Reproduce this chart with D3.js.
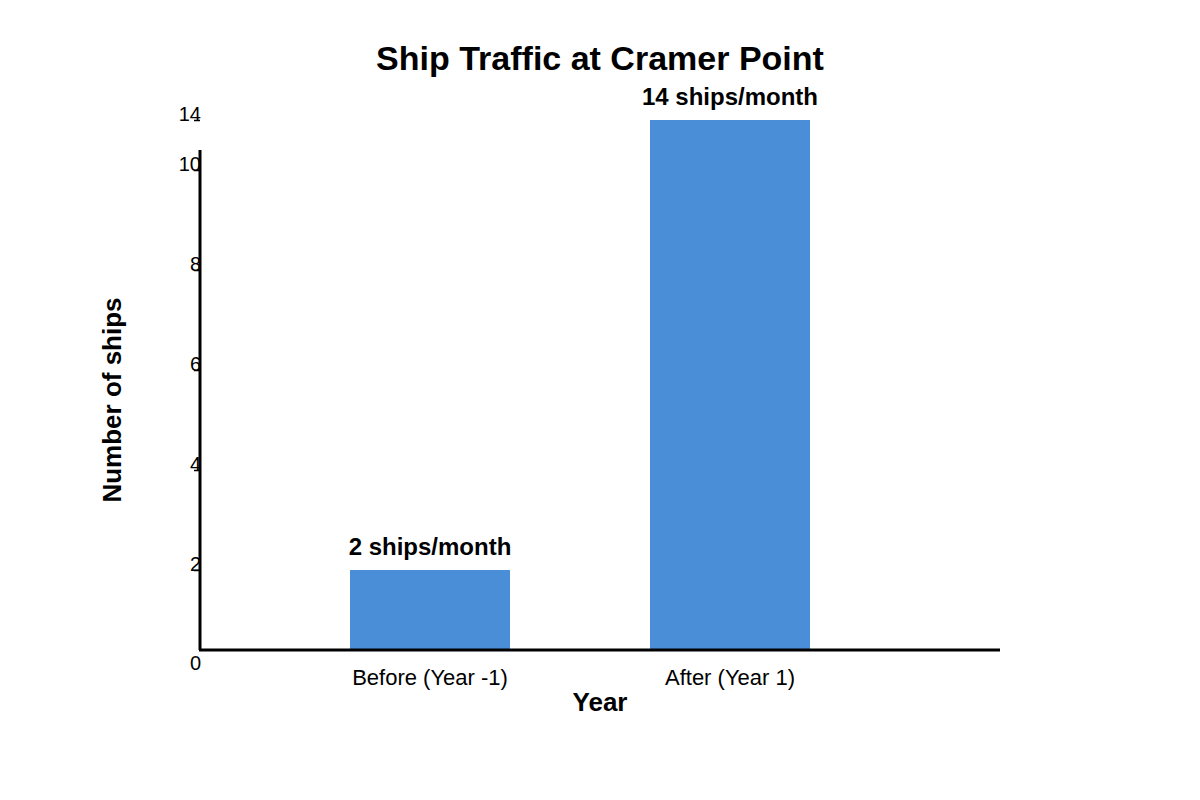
<!DOCTYPE html>
<html>
<head>
<meta charset="utf-8">
<script src="https://cdn.jsdelivr.net/npm/d3@7"></script>
<style>
  body { margin: 0; background: #fff; }
  text { font-family: "Liberation Sans", Arial, sans-serif; fill: #000; }
</style>
</head>
<body>
<div id="chart"></div>
<script>
// data
const categories = ["Before (Year -1)", "After (Year 1)"];
const ships = [2, 14];
const barLabels = ["2 ships/month", "14 ships/month"];
const yTicks = [0, 2, 4, 6, 8, 10, 14];

const width = 1200, height = 800;
const svg = d3.select("#chart").append("svg")
  .attr("width", width)
  .attr("height", height);

// the original axis is not evenly spaced, so use a piecewise scale
const y = d3.scaleLinear()
  .domain([0, 2, 4, 6, 8, 10, 14])
  .range([650, 570, 470, 370, 270, 170, 120]);

const x = d3.scaleBand()
  .domain(categories)
  .range([210, 950])
  .padding(140 / 300);

// title
svg.append("text")
  .attr("x", 600).attr("y", 70)
  .attr("text-anchor", "middle")
  .style("font-size", "34px").style("font-weight", "bold")
  .text("Ship Traffic at Cramer Point");

// bars
svg.selectAll("rect.bar")
  .data(ships)
  .join("rect")
  .attr("class", "bar")
  .attr("x", (d, i) => x(categories[i]))
  .attr("width", x.bandwidth())
  .attr("y", d => y(d))
  .attr("height", d => y(0) - y(d))
  .attr("fill", "#4a8ed7");

svg.selectAll("text.barlabel")
  .data(ships)
  .join("text")
  .attr("class", "barlabel")
  .attr("x", (d, i) => x(categories[i]) + x.bandwidth() / 2)
  .attr("y", d => y(d) - 15)
  .attr("text-anchor", "middle")
  .style("font-size", "24px").style("font-weight", "bold")
  .text((d, i) => barLabels[i]);

// y axis
const yAxis = svg.append("g")
  .attr("transform", "translate(200,0)")
  .call(d3.axisLeft(y).tickValues(yTicks).tickSize(6).tickSizeOuter(0));
yAxis.select(".domain").remove();
yAxis.selectAll(".tick line").attr("stroke", "#000").attr("stroke-width", 1.5);
yAxis.selectAll(".tick text")
  .attr("x", 1)
  .attr("dy", d => d === 0 ? "0.95em" : "0")
  .style("font-size", "20px")
  .style("font-family", "'Liberation Sans', Arial, sans-serif")
  .attr("fill", "#000");
yAxis.selectAll(".tick").filter(d => d === 0).select("line").remove();

svg.append("line")
  .attr("x1", 200).attr("x2", 200)
  .attr("y1", 150).attr("y2", y(0))
  .attr("stroke", "#000").attr("stroke-width", 3);

// x axis
const xAxis = svg.append("g")
  .attr("transform", "translate(0," + y(0) + ")")
  .call(d3.axisBottom(x).tickSize(0).tickPadding(19));
xAxis.select(".domain").remove();
xAxis.selectAll(".tick text")
  .style("font-size", "22px")
  .style("font-family", "'Liberation Sans', Arial, sans-serif")
  .attr("fill", "#000");

svg.append("line")
  .attr("x1", 199).attr("x2", 1000)
  .attr("y1", y(0)).attr("y2", y(0))
  .attr("stroke", "#000").attr("stroke-width", 3);

// axis titles
svg.append("text")
  .attr("x", 600).attr("y", 711)
  .attr("text-anchor", "middle")
  .style("font-size", "26px").style("font-weight", "bold")
  .text("Year");

svg.append("text")
  .attr("transform", "translate(121,400) rotate(-90)")
  .attr("text-anchor", "middle")
  .style("font-size", "26px").style("font-weight", "bold")
  .text("Number of ships");
</script>
</body>
</html>
